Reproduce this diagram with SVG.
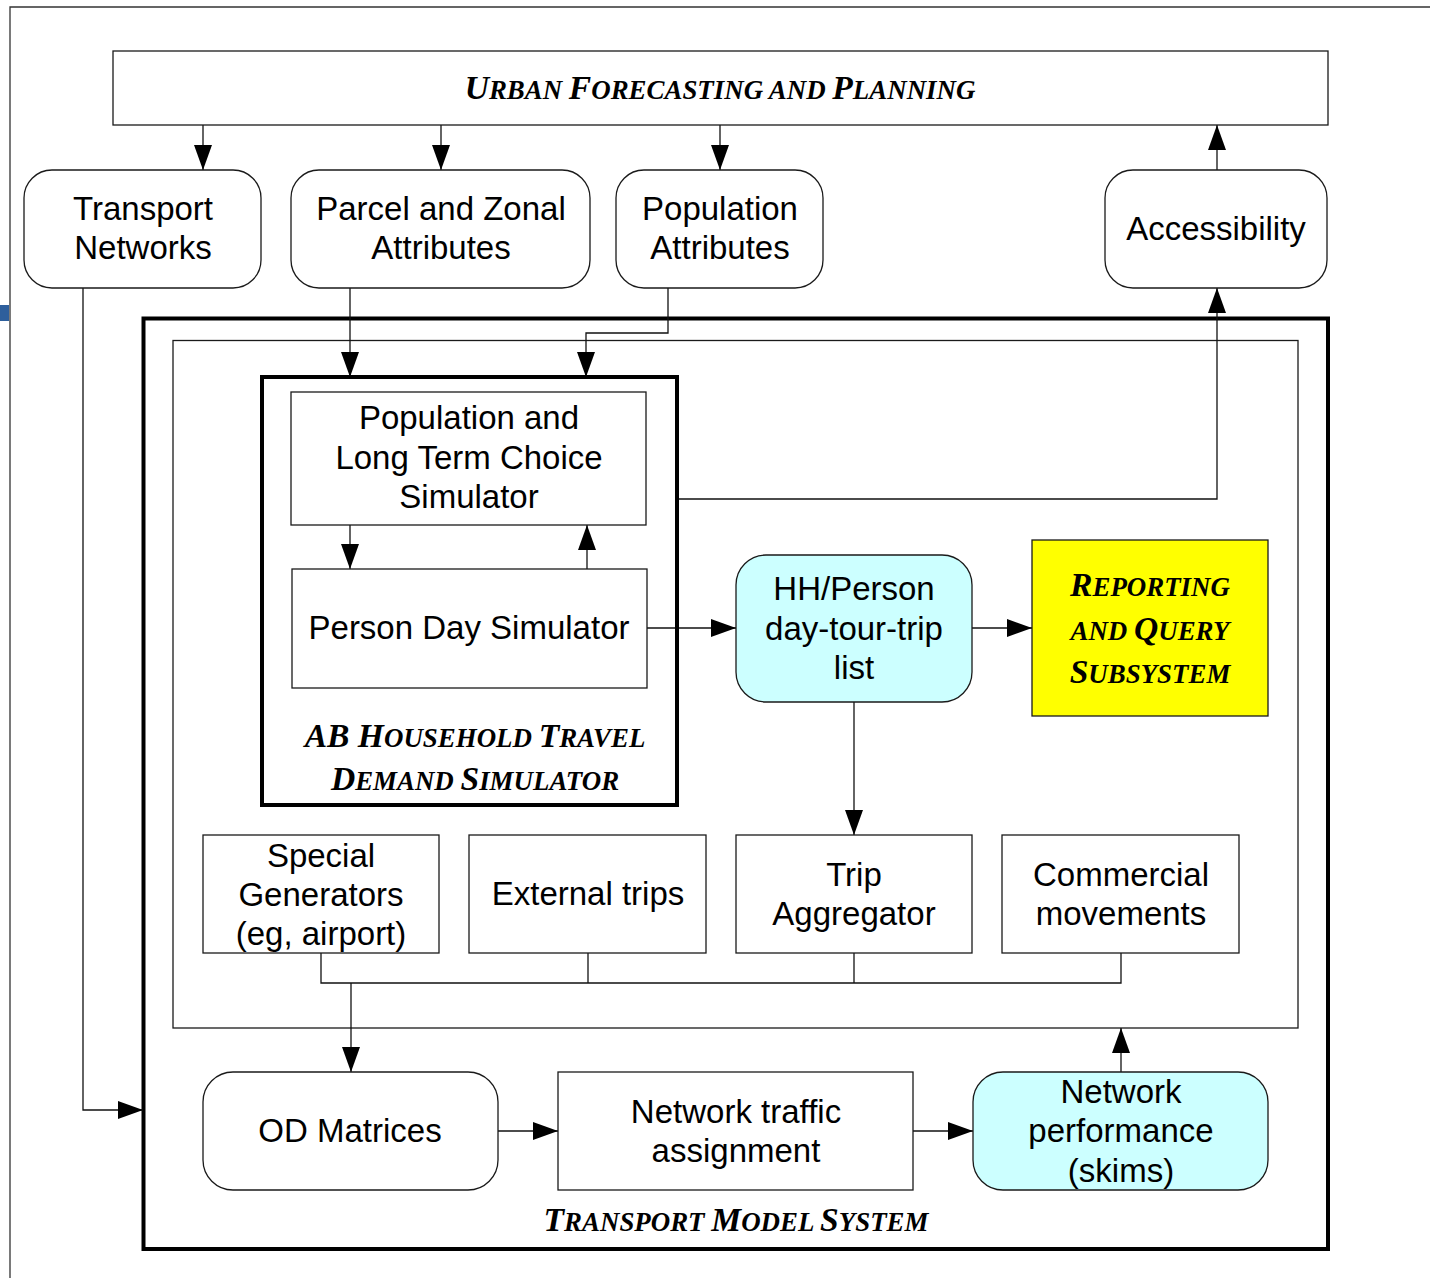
<svg xmlns="http://www.w3.org/2000/svg" width="1430" height="1278" viewBox="0 0 1430 1278">
  <style>
    .box { fill: #ffffff; stroke: #1a1a1a; stroke-width: 1.3; }
    .cyan { fill: #ccffff; stroke: #1a1a1a; stroke-width: 1.3; }
    .yellow { fill: #ffff00; stroke: #1a1a1a; stroke-width: 1.3; }
    .frame { fill: none; stroke: #000000; stroke-width: 4; }
    .thin { fill: none; stroke: #1a1a1a; stroke-width: 1.3; }
    .wire { fill: none; stroke: #111111; stroke-width: 1.3; }
    .lbl { font-family: "Liberation Sans", Arial, sans-serif; font-size: 33px; fill: #000; text-anchor: middle; }
    .sc { font-family: "Liberation Serif", "Times New Roman", serif; font-weight: bold; font-style: italic; font-size: 33.6px; fill: #000; text-anchor: middle; }
    .s { font-size: 26.9px; }
  </style>
  <defs>
    <marker id="arrow" markerUnits="userSpaceOnUse" markerWidth="26" markerHeight="20" refX="25" refY="9" orient="auto">
      <path d="M0,0 L25,9 L0,18 Z" fill="#000"/>
    </marker>
  </defs>

  <rect width="1430" height="1278" fill="#ffffff"/>

  <!-- page edge and side tab -->
  <path d="M10,1278 L10,7 L1430,7" fill="none" stroke="#333" stroke-width="1.3"/>
  <rect x="0" y="305" width="9" height="16" fill="#2e5f9c"/>

  <!-- enclosing frames -->
  <rect class="frame" x="143.5" y="318.5" width="1184.5" height="930.5"/>
  <rect class="thin" x="173" y="340.5" width="1125" height="687.5"/>

  <!-- connectors -->
  <g id="connectors">
    <line class="wire" x1="203" y1="125" x2="203" y2="170" marker-end="url(#arrow)"/>
    <line class="wire" x1="441" y1="125" x2="441" y2="170" marker-end="url(#arrow)"/>
    <line class="wire" x1="720" y1="125" x2="720" y2="170" marker-end="url(#arrow)"/>
    <line class="wire" x1="1217" y1="170" x2="1217" y2="125" marker-end="url(#arrow)"/>
    <polyline class="wire" points="83,288 83,1110 143,1110" marker-end="url(#arrow)"/>
    <line class="wire" x1="350" y1="288" x2="350" y2="377" marker-end="url(#arrow)"/>
    <polyline class="wire" points="668,288 668,333 586,333 586,377" marker-end="url(#arrow)"/>
    <line class="wire" x1="350" y1="525" x2="350" y2="569" marker-end="url(#arrow)"/>
    <line class="wire" x1="587" y1="569" x2="587" y2="525" marker-end="url(#arrow)"/>
    <polyline class="wire" points="677,499 1217,499 1217,288" marker-end="url(#arrow)"/>
    <line class="wire" x1="647" y1="628" x2="736" y2="628" marker-end="url(#arrow)"/>
    <line class="wire" x1="972" y1="628" x2="1032" y2="628" marker-end="url(#arrow)"/>
    <line class="wire" x1="854" y1="702" x2="854" y2="835" marker-end="url(#arrow)"/>
    <polyline class="wire" points="321,953 321,983 1121,983 1121,953"/>
    <line class="wire" x1="588" y1="953" x2="588" y2="983"/>
    <line class="wire" x1="854" y1="953" x2="854" y2="983"/>
    <line class="wire" x1="351" y1="983" x2="351" y2="1072" marker-end="url(#arrow)"/>
    <line class="wire" x1="498" y1="1131" x2="558" y2="1131" marker-end="url(#arrow)"/>
    <line class="wire" x1="913" y1="1131" x2="973" y2="1131" marker-end="url(#arrow)"/>
    <line class="wire" x1="1121" y1="1072" x2="1121" y2="1028" marker-end="url(#arrow)"/>
  </g>

  <g id="urban-forecasting">
    <rect class="box" x="113" y="51" width="1215" height="74"/>
    <text class="sc" x="720" y="99">U<tspan class="s">RBAN </tspan>F<tspan class="s">ORECASTING AND </tspan>P<tspan class="s">LANNING</tspan></text>
  </g>

  <g id="transport-networks">
    <rect class="box" x="24" y="170" width="237" height="118" rx="28"/>
    <text class="lbl" x="143" y="220">Transport</text>
    <text class="lbl" x="143" y="259">Networks</text>
  </g>

  <g id="parcel-zonal">
    <rect class="box" x="291" y="170" width="299" height="118" rx="28"/>
    <text class="lbl" x="441" y="220">Parcel and Zonal</text>
    <text class="lbl" x="441" y="259">Attributes</text>
  </g>

  <g id="population-attributes">
    <rect class="box" x="616" y="170" width="207" height="118" rx="28"/>
    <text class="lbl" x="720" y="220">Population</text>
    <text class="lbl" x="720" y="259">Attributes</text>
  </g>

  <g id="accessibility">
    <rect class="box" x="1105" y="170" width="222" height="118" rx="28"/>
    <text class="lbl" x="1216" y="240">Accessibility</text>
  </g>

  <g id="ab-simulator">
    <rect class="frame" x="262" y="377" width="415" height="428"/>
    <text class="sc" x="475" y="747">AB H<tspan class="s">OUSEHOLD </tspan>T<tspan class="s">RAVEL</tspan></text>
    <text class="sc" x="475" y="790">D<tspan class="s">EMAND </tspan>S<tspan class="s">IMULATOR</tspan></text>
  </g>

  <g id="long-term-choice">
    <rect class="box" x="291" y="392" width="355" height="133"/>
    <text class="lbl" x="469" y="429">Population and</text>
    <text class="lbl" x="469" y="469">Long Term Choice</text>
    <text class="lbl" x="469" y="508">Simulator</text>
  </g>

  <g id="person-day">
    <rect class="box" x="292" y="569" width="355" height="119"/>
    <text class="lbl" x="469" y="639">Person Day Simulator</text>
  </g>

  <g id="trip-list">
    <rect class="cyan" x="736" y="555" width="236" height="147" rx="30"/>
    <text class="lbl" x="854" y="600">HH/Person</text>
    <text class="lbl" x="854" y="640">day-tour-trip</text>
    <text class="lbl" x="854" y="679">list</text>
  </g>

  <g id="reporting">
    <rect class="yellow" x="1032" y="540" width="236" height="176"/>
    <text class="sc" x="1150" y="596">R<tspan class="s">EPORTING</tspan></text>
    <text class="sc" x="1150" y="640"><tspan class="s">AND </tspan>Q<tspan class="s">UERY</tspan></text>
    <text class="sc" x="1150" y="683">S<tspan class="s">UBSYSTEM</tspan></text>
  </g>

  <g id="special-generators">
    <rect class="box" x="203" y="835" width="236" height="118"/>
    <text class="lbl" x="321" y="867">Special</text>
    <text class="lbl" x="321" y="906">Generators</text>
    <text class="lbl" x="321" y="945">(eg, airport)</text>
  </g>

  <g id="external-trips">
    <rect class="box" x="469" y="835" width="237" height="118"/>
    <text class="lbl" x="588" y="905">External trips</text>
  </g>

  <g id="trip-aggregator">
    <rect class="box" x="736" y="835" width="236" height="118"/>
    <text class="lbl" x="854" y="886">Trip</text>
    <text class="lbl" x="854" y="925">Aggregator</text>
  </g>

  <g id="commercial">
    <rect class="box" x="1002" y="835" width="237" height="118"/>
    <text class="lbl" x="1121" y="886">Commercial</text>
    <text class="lbl" x="1121" y="925">movements</text>
  </g>

  <g id="od-matrices">
    <rect class="box" x="203" y="1072" width="295" height="118" rx="30"/>
    <text class="lbl" x="350" y="1142">OD Matrices</text>
  </g>

  <g id="traffic-assignment">
    <rect class="box" x="558" y="1072" width="355" height="118"/>
    <text class="lbl" x="736" y="1123">Network traffic</text>
    <text class="lbl" x="736" y="1162">assignment</text>
  </g>

  <g id="network-performance">
    <rect class="cyan" x="973" y="1072" width="295" height="118" rx="30"/>
    <text class="lbl" x="1121" y="1103">Network</text>
    <text class="lbl" x="1121" y="1142">performance</text>
    <text class="lbl" x="1121" y="1182">(skims)</text>
  </g>

  <g id="transport-model-label">
    <text class="sc" x="736" y="1231">T<tspan class="s">RANSPORT </tspan>M<tspan class="s">ODEL </tspan>S<tspan class="s">YSTEM</tspan></text>
  </g>
</svg>
